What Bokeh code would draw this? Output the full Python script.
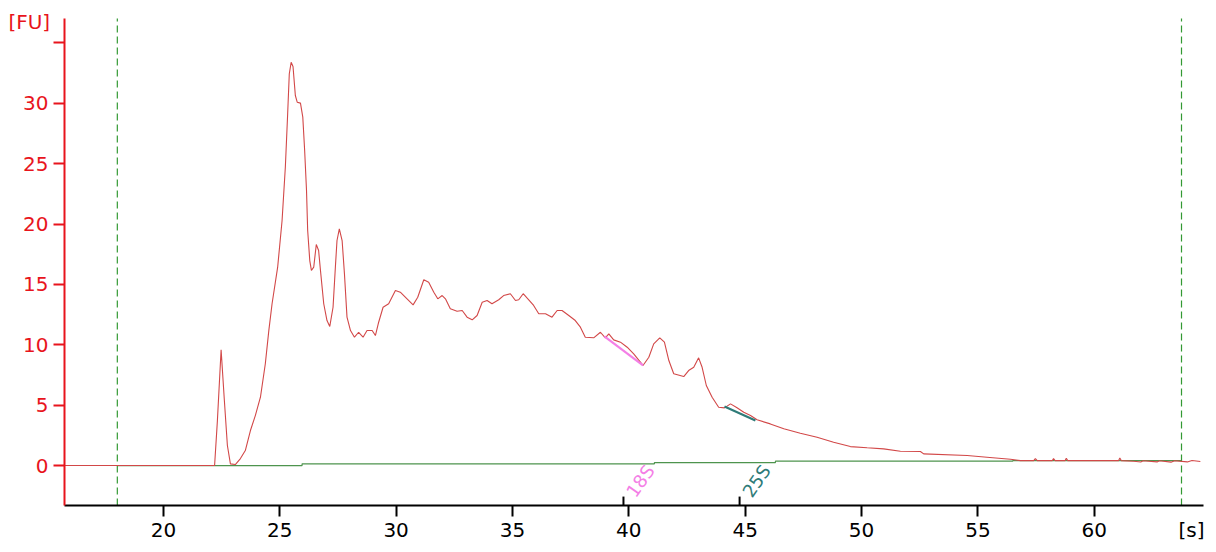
from bokeh.plotting import figure
from bokeh.models import Range1d, LinearAxis, FixedTicker, ColumnDataSource
from bokeh.embed import file_html
from bokeh.resources import INLINE
from bokeh.core.properties import value

# electropherogram trace (time [s], fluorescence [FU])
time_s = [15.75, 21.00, 22.20, 22.32, 22.48, 22.62, 22.75, 22.88, 23.09, 23.31, 23.52, 23.74,
          23.95, 24.17, 24.38, 24.53, 24.67, 24.91, 25.10, 25.24, 25.34, 25.41, 25.49, 25.57,
          25.67, 25.75, 25.89, 25.99, 26.07, 26.15, 26.20, 26.29, 26.36, 26.46, 26.57, 26.67,
          26.75, 26.89, 27.03, 27.15, 27.29, 27.39, 27.46, 27.56, 27.68, 27.78, 27.89, 28.04,
          28.21, 28.39, 28.58, 28.75, 28.97, 29.11, 29.25, 29.44, 29.68, 29.97, 30.18, 30.47,
          30.73, 30.93, 31.19, 31.40, 31.62, 31.79, 31.98, 32.12, 32.33, 32.62, 32.84, 33.05,
          33.27, 33.48, 33.70, 33.91, 34.12, 34.41, 34.62, 34.91, 35.13, 35.27, 35.46, 35.70,
          35.91, 36.13, 36.42, 36.70, 36.92, 37.13, 37.42, 37.70, 37.92, 38.13, 38.49, 38.78,
          38.99, 39.14, 39.35, 39.64, 39.93, 40.21, 40.61, 40.86, 41.07, 41.33, 41.53, 41.72,
          41.93, 42.36, 42.57, 42.79, 43.00, 43.15, 43.33, 43.58, 43.86, 44.11, 44.37, 44.65,
          44.94, 45.23, 45.51, 46.08, 46.66, 47.37, 48.09, 48.80, 49.52, 50.24, 50.95, 51.67,
          52.53, 52.67, 54.54, 55.39, 56.40, 56.83, 57.40, 57.47, 57.55, 58.20, 58.25, 58.32,
          58.75, 58.80, 58.86, 61.05, 61.10, 61.16, 61.70, 62.00, 62.10, 62.70, 62.80, 63.30,
          63.45, 64.00, 64.20, 64.56]
fu = [0.00, 0.00, 0.00, 3.70, 9.59, 5.39, 1.66, 0.14, 0.08, 0.58, 1.24, 2.90,
      4.14, 5.66, 8.43, 11.18, 13.40, 16.43, 20.30, 24.71, 29.14, 32.45, 33.40, 33.05,
      30.65, 30.10, 30.02, 28.86, 26.10, 22.78, 19.47, 16.98, 16.16, 16.43, 18.31, 17.81,
      16.16, 13.40, 12.01, 11.52, 13.11, 16.43, 18.64, 19.61, 18.64, 15.88, 12.29, 11.18,
      10.63, 11.04, 10.63, 11.18, 11.18, 10.77, 11.87, 13.11, 13.40, 14.50, 14.36, 13.81,
      13.31, 13.94, 15.39, 15.19, 14.36, 13.81, 14.08, 13.81, 12.98, 12.78, 12.84, 12.29,
      12.07, 12.43, 13.53, 13.67, 13.40, 13.73, 14.08, 14.23, 13.67, 13.73, 14.23, 13.73,
      13.26, 12.57, 12.57, 12.29, 12.84, 12.84, 12.43, 12.01, 11.46, 10.63, 10.58, 11.04,
      10.58, 10.91, 10.41, 10.22, 9.80, 9.25, 8.29, 8.97, 10.08, 10.58, 10.22, 8.70,
      7.60, 7.37, 7.87, 8.14, 8.92, 8.14, 6.63, 5.66, 4.83, 4.78, 5.11, 4.78,
      4.42, 4.14, 3.79, 3.45, 3.04, 2.68, 2.34, 1.93, 1.57, 1.47, 1.38, 1.18,
      1.16, 0.97, 0.83, 0.69, 0.52, 0.41, 0.41, 0.58, 0.41, 0.41, 0.58, 0.41,
      0.41, 0.60, 0.41, 0.41, 0.62, 0.41, 0.36, 0.30, 0.40, 0.30, 0.40, 0.28,
      0.40, 0.30, 0.42, 0.33]

# baseline (step)
baseline_t = [18.02, 25.96, 41.10, 46.30, 56.50, 63.75]
baseline_fu = [0.00, 0.14, 0.25, 0.36, 0.41, 0.41]

# ladder markers
marker_names = ["18S", "25S"]
marker_t = [39.77, 44.76]
marker_colors = ["#f47fe6", "#2e7b78"]
marker_t0 = [38.95, 44.11]
marker_fu0 = [10.69, 4.89]
marker_t1 = [40.61, 45.44]
marker_fu1 = [8.29, 3.73]

# region limits (dashed)
limit_t = [18.02, 63.75]

x_ticks = [20, 25, 30, 35, 40, 45, 50, 55, 60]
y_ticks = [0, 5, 10, 15, 20, 25, 30, 35]

# axis extents (data units)
X0, X1 = 15.75, 64.69
Y0, Y1 = -3.31, 37.03

RED_AX = "#e8141c"
FONT = "DejaVu Sans"

# plot area spans the whole canvas; axes are pinned at X0 / Y0
p = figure(width=1208, height=544, output_backend="svg", toolbar_location=None,
           x_range=Range1d(13.00, 64.91), y_range=Range1d(-6.54, 38.52),
           x_axis_location=None, y_axis_location=None,
           min_border_left=0, min_border_right=0, min_border_top=0, min_border_bottom=0)
p.outline_line_color = None
p.grid.visible = False
p.background_fill_color = "white"
p.border_fill_color = "white"

xaxis = LinearAxis(fixed_location=Y0, bounds=(X0, X1), ticker=FixedTicker(ticks=x_ticks))
xaxis.axis_line_width = 2
xaxis.axis_line_color = "black"
xaxis.major_tick_line_width = 2
xaxis.major_tick_line_color = "black"
xaxis.major_tick_out = 11
xaxis.major_tick_in = 0
xaxis.minor_tick_line_color = None
xaxis.major_label_text_font = FONT
xaxis.major_label_text_font_size = "20px"
xaxis.major_label_text_color = "black"
xaxis.major_label_standoff = 6
p.add_layout(xaxis, "below")

yaxis = LinearAxis(fixed_location=X0, bounds=(Y0, Y1), ticker=FixedTicker(ticks=y_ticks))
yaxis.major_label_overrides = {35: ""}
yaxis.axis_line_width = 2
yaxis.axis_line_color = RED_AX
yaxis.major_tick_line_width = 2
yaxis.major_tick_line_color = RED_AX
yaxis.major_tick_out = 11
yaxis.major_tick_in = 0
yaxis.minor_tick_line_color = None
yaxis.major_label_text_font = FONT
yaxis.major_label_text_font_size = "20px"
yaxis.major_label_text_color = RED_AX
yaxis.major_label_standoff = 5
p.add_layout(yaxis, "left")

# dashed region limits
lsrc = ColumnDataSource(dict(t=limit_t, y0=[Y0] * len(limit_t), y1=[Y1] * len(limit_t)))
p.segment(x0="t", y0="y0", x1="t", y1="y1", source=lsrc, line_color="#339933",
          line_width=1.2, line_dash="7 4")

# baseline
p.step(baseline_t, baseline_fu, mode="after", line_color="#4e944e", line_width=1.2)

# trace
p.line(time_s, fu, line_color="#d24848", line_width=1.1)

# marker segments on trace, ticks and labels
msrc = ColumnDataSource(dict(t0=marker_t0, f0=marker_fu0, t1=marker_t1, f1=marker_fu1,
                             t=marker_t, name=marker_names, color=marker_colors,
                             ybot=[Y0] * len(marker_t), ytop=[-2.57] * len(marker_t),
                             ylab=[-2.45] * len(marker_t)))
p.segment(x0="t0", y0="f0", x1="t1", y1="f1", source=msrc, line_color="color", line_width=2.2)
p.segment(x0="t", y0="ybot", x1="t", y1="ytop", source=msrc, line_color="black", line_width=2)
p.text(x="t", y="ylab", text="name", source=msrc, text_color="color", angle=55,
       angle_units="deg", text_font=value(FONT), text_font_size="18px",
       text_align="left", text_baseline="alphabetic", x_offset=7)

# axis unit labels
p.text(x=[13.34], y=[36.70], text=["[FU]"], text_color=RED_AX, text_font=value(FONT),
       text_font_size="20px", text_align="left", text_baseline="middle")
p.text(x=[64.74], y=[-5.30], text=["[s]"], text_color="black", text_font=value(FONT),
       text_font_size="20px", text_align="right", text_baseline="middle")

open("out.html", "w").write(file_html(p, INLINE))
